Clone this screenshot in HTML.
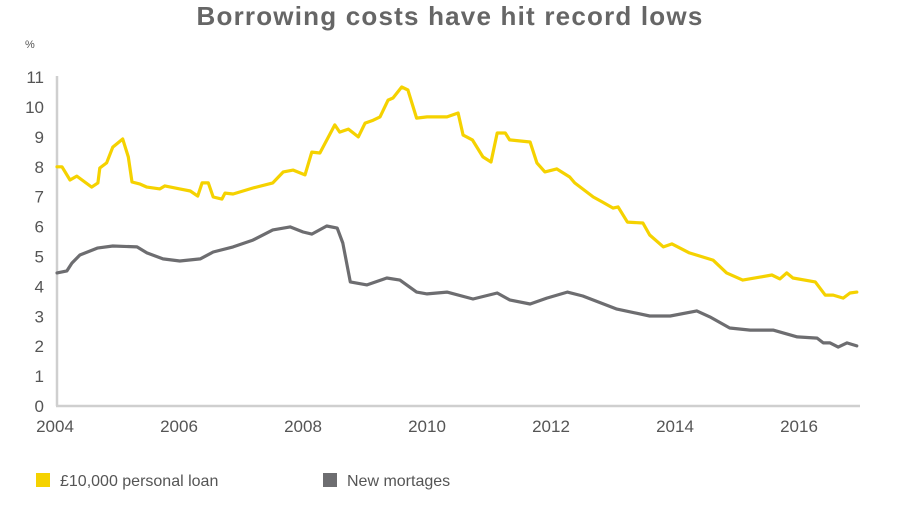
<!DOCTYPE html>
<html><head><meta charset="utf-8">
<style>
body{margin:0;background:#fff;width:900px;height:501px;overflow:hidden;font-family:"Liberation Sans",sans-serif}
svg text{font-family:"Liberation Sans",sans-serif}
</style></head>
<body>
<svg width="900" height="501" viewBox="0 0 900 501">
<text x="450" y="25" text-anchor="middle" font-size="26" letter-spacing="1.2" font-weight="bold" fill="#666">Borrowing costs have hit record lows</text>
<text x="25" y="48" font-size="11" fill="#555">%</text>
<g id="yticks"></g>
<g id="xticks"></g>
<line x1="57" y1="76" x2="57" y2="406" stroke="#cfcfcf" stroke-width="2.5"/>
<line x1="56" y1="406" x2="860" y2="406" stroke="#cfcfcf" stroke-width="2.5"/>
<g id="series"></g>
<rect x="36" y="473" width="14" height="14" fill="#f5d200"/>
<text x="60" y="486" font-size="16" fill="#555">£10,000 personal loan</text>
<rect x="323" y="473" width="14" height="14" fill="#6d6d70"/>
<text x="347" y="486" font-size="16" fill="#555">New mortages</text>
</svg>
<script>
const yTickLabels=[0,1,2,3,4,5,6,7,8,9,10,11];
const xTickLabels=[2004,2006,2008,2010,2012,2014,2016];
const loanYears=[2004.0,2004.08,2004.21,2004.32,2004.56,2004.66,2004.69,2004.8,2004.9,2005.06,2005.15,2005.21,2005.34,2005.45,2005.66,2005.74,2005.98,2006.15,2006.27,2006.34,2006.44,2006.52,2006.66,2006.71,2006.84,2007.16,2007.48,2007.65,2007.81,2008.0,2008.11,2008.24,2008.48,2008.56,2008.7,2008.86,2008.97,2009.1,2009.21,2009.34,2009.42,2009.56,2009.66,2009.8,2009.97,2010.13,2010.29,2010.47,2010.55,2010.7,2010.87,2011.0,2011.1,2011.23,2011.3,2011.63,2011.74,2011.87,2012.06,2012.27,2012.35,2012.65,2012.8,2012.97,2013.05,2013.2,2013.45,2013.56,2013.78,2013.92,2014.2,2014.58,2014.8,2015.06,2015.34,2015.53,2015.66,2015.77,2015.87,2016.23,2016.39,2016.52,2016.68,2016.79,2016.9];
const loanValues=[8.0,8.0,7.56,7.69,7.32,7.46,7.96,8.13,8.66,8.93,8.33,7.49,7.42,7.32,7.26,7.36,7.26,7.19,7.02,7.46,7.46,6.99,6.92,7.12,7.09,7.29,7.46,7.83,7.89,7.73,8.49,8.46,9.4,9.16,9.26,9.0,9.46,9.56,9.67,10.23,10.3,10.67,10.57,9.63,9.67,9.67,9.67,9.8,9.06,8.9,8.33,8.16,9.13,9.13,8.9,8.83,8.13,7.83,7.93,7.66,7.46,6.99,6.82,6.62,6.66,6.15,6.12,5.72,5.32,5.42,5.12,4.88,4.45,4.21,4.31,4.38,4.25,4.45,4.28,4.15,3.71,3.71,3.61,3.78,3.81];
const mortYears=[2004.0,2004.16,2004.24,2004.37,2004.65,2004.9,2005.29,2005.45,2005.71,2005.98,2006.31,2006.52,2006.84,2007.16,2007.48,2007.76,2007.97,2008.11,2008.35,2008.52,2008.61,2008.73,2009.0,2009.32,2009.53,2009.8,2009.97,2010.29,2010.71,2011.1,2011.3,2011.63,2011.9,2012.23,2012.48,2013.03,2013.56,2013.89,2014.32,2014.53,2014.85,2015.18,2015.55,2015.94,2016.26,2016.36,2016.47,2016.6,2016.74,2016.9];
const mortValues=[4.45,4.52,4.78,5.05,5.28,5.35,5.32,5.12,4.92,4.85,4.92,5.15,5.32,5.55,5.89,5.99,5.82,5.75,6.02,5.95,5.45,4.15,4.05,4.28,4.21,3.81,3.75,3.81,3.58,3.78,3.55,3.41,3.61,3.81,3.68,3.24,3.01,3.01,3.18,2.98,2.61,2.54,2.54,2.31,2.27,2.11,2.11,1.97,2.11,2.01];
const NS='http://www.w3.org/2000/svg';
function xS(y){return 57+(y-2004)*62;}
function yS(v){return 406-v*29.9;}
const yt=document.getElementById('yticks');
yTickLabels.forEach(v=>{
  const t=document.createElementNS(NS,'text');
  t.setAttribute('x',44);t.setAttribute('y',yS(v)+6);
  t.setAttribute('text-anchor','end');t.setAttribute('font-size','17');t.setAttribute('fill','#555');
  t.textContent=v;
  
  
  yt.appendChild(t);
});
const xt=document.getElementById('xticks');
xTickLabels.forEach(v=>{
  const t=document.createElementNS(NS,'text');
  t.setAttribute('x',xS(v)-2);t.setAttribute('y',432);
  t.setAttribute('text-anchor','middle');t.setAttribute('font-size','17');t.setAttribute('fill','#555');
  t.textContent=v;
  
  
  xt.appendChild(t);
});
const sg=document.getElementById('series');
function line(xs,vs,color,name){
  const p=document.createElementNS(NS,'polyline');
  p.setAttribute('points',xs.map((x,i)=>xS(x).toFixed(1)+','+yS(vs[i]).toFixed(1)).join(' '));
  p.setAttribute('fill','none');p.setAttribute('stroke',color);p.setAttribute('stroke-width','3.2');
  p.setAttribute('stroke-linejoin','round');p.setAttribute('stroke-linecap','round');
  
  
  sg.appendChild(p);
}
line(mortYears,mortValues,'#6d6d70','mortgages-line');
line(loanYears,loanValues,'#f5d200','personal-loan-line');
</script>
</body></html>
